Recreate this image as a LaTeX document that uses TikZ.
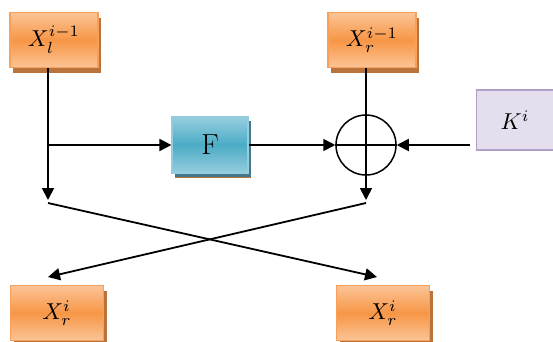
\documentclass[tikz,border=0pt]{standalone}
\usepackage{graphicx}
\usepackage{xcolor}
\usepackage{tikz}
\usetikzlibrary{arrows.meta,shadows}
\definecolor{FOrange}{RGB}{247,150,70}
\definecolor{FOrangeLt}{RGB}{251,196,150}
\definecolor{FOrangeSh}{RGB}{185,115,60}
\definecolor{FTeal}{RGB}{75,172,198}
\definecolor{FTealLt}{RGB}{150,205,222}
\definecolor{FTealSh}{RGB}{70,120,140}
\definecolor{FLav}{RGB}{228,222,238}
\definecolor{FLavDk}{RGB}{178,160,200}
\newcommand{\halflbl}[1]{\scalebox{2.3}{$#1$}}

\begin{document}
\begin{tikzpicture}[x=1pt,y=-1pt,
        obox/.style={draw=FOrange!90!white,line width=1.2pt,
                     top color=FOrangeLt,bottom color=FOrangeLt,middle color=FOrange,
                     drop shadow={shadow xshift=3pt,shadow yshift=-5pt,opacity=1,fill=FOrangeSh},
                     minimum width=88pt,minimum height=55pt,inner sep=0pt},
        fbox/.style={obox,draw=FTealLt,top color=FTealLt,bottom color=FTealLt,middle color=FTeal,
                     drop shadow={shadow xshift=3pt,shadow yshift=-4pt,opacity=1,fill=FTealSh},
                     minimum width=76pt,minimum height=56pt,font=\fontsize{29}{32}\selectfont},
        kbox/.style={draw=FLavDk,line width=1.2pt,fill=FLav,
                     minimum width=77pt,minimum height=60pt,inner sep=0pt},
        xorc/.style={draw,circle,line width=1.5pt,minimum size=60pt,inner sep=0pt},
        arr/.style={-{Triangle[length=12pt,width=12pt]},line width=1.8pt}
      ]
        \useasboundingbox (0,0) rectangle (553,341);
        % input halves and round key
        \node[obox] (XL) at (54,40) {\halflbl{X_l^{i-1}}};
        \node[obox] (XR) at (372,40) {\halflbl{X_r^{i-1}}};
        \node[kbox] (K) at (515,120) {\halflbl{K^i}};
        % round function and xor
        \node[fbox] (F) at (210,145) {F};
        \node[xorc] (P) at (366,145) {};
        % output halves
        \node[obox,minimum width=93pt] (YL) at (57,313) {\halflbl{X_r^i}};
        \node[obox,minimum width=93pt] (YR) at (383,313) {\halflbl{X_r^i}};
        \coordinate (LA) at (48,200);
        \coordinate (LB) at (48,145);
        \coordinate (RA) at (366,200);
        \coordinate (LS) at (48,203);
        \coordinate (RS) at (366,203);
        \coordinate (LE) at (48,277);
        \coordinate (RE) at (377,277);
        \draw[arr] (XL.south -| LA) -- (LA);
        \draw[arr] (LB) -- (F.west);
        \draw[arr] (F.east) -- (P.west);
        \draw[arr] ([xshift=-6pt]K.west |- P.east) -- (P.east);
        \draw[line width=1.5pt] (P.west) -- (P.east);
        \draw[arr] (XR.south -| RA) -- (RA);
        % swap of the halves
        \draw[arr] (LS) -- (RE);
        \draw[arr] (RS) -- (LE);
      \end{tikzpicture}
\end{document}
